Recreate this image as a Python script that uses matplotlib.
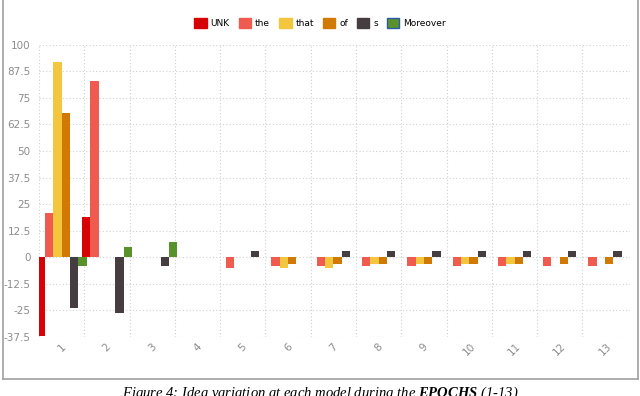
import numpy as np
import matplotlib
matplotlib.use("Agg")
from matplotlib import pyplot as plt
from matplotlib.patches import Patch
from matplotlib.lines import Line2D

plt.rcParams["mathtext.fontset"] = "custom"
plt.rcParams["mathtext.bf"] = "Liberation Serif:italic:bold"

epochs = [str(i) for i in range(1, 14)]
series_names = ["UNK", "the", "that", "of", "s", "Moreover"]
series_colors = ["#d70206", "#f05b4f", "#f4c63d", "#d17905", "#453d3f", "#59922b"]

unk = [-37, 19, 0, 0, 0, 0, 0, 0, 0, 0, 0, 0, 0]
the = [21, 83, 0, 0, -5, -4, -4, -4, -4, -4, -4, -4, -4]
that = [92, 0, 0, 0, 0, -5, -5, -3, -3, -3, -3, 0, 0]
of = [68, 0, 0, 0, 0, -3, -3, -3, -3, -3, -3, -3, -3]
s = [-24, -26, -4, 0, 3, 0, 3, 3, 3, 3, 3, 3, 3]
moreover = [-4, 5, 7, 0, 0, 0, 0, 0, 0, 0, 0, 0, 0]
all_series = [unk, the, that, of, s, moreover]

fig = plt.figure(figsize=(6.4, 3.96), dpi=100)
ax = fig.add_axes([39 / 640, 1 - 337 / 396, 591 / 640, (337 - 44.6) / 396])

x = np.arange(len(epochs))
w = 0.184
for k, vals in enumerate(all_series):
    ax.bar(x + (k - 2.5) * w, vals, width=w, color=series_colors[k], zorder=3)

ax.set_xlim(-0.5, 12.55)
ax.set_ylim(-37.5, 100)
yt = np.arange(-37.5, 100.1, 12.5)
ax.set_yticks(yt)
ax.set_yticklabels(["%g" % v for v in yt])
ax.set_xticks(x)
ax.set_xticklabels(epochs, rotation=45, ha="center", va="top")
ax.tick_params(length=0, colors="#8c8c8c", labelsize=7.5)
ax.tick_params(axis="x", pad=3)
ax.tick_params(axis="y", pad=6)
for sp in ax.spines.values():
    sp.set_visible(False)

# grid: horizontal at y ticks, vertical at category boundaries
for v in yt:
    ax.axhline(v, color="#d0d0d0", lw=0.8, ls=(0, (1, 2)), zorder=1)
for b in np.arange(-0.5, 12, 1):
    ax.axvline(b, color="#d0d0d0", lw=0.8, ls=(0, (1, 2)), zorder=1)

handles = [Patch(facecolor=c, edgecolor=c) for c in series_colors]
handles[-1] = Patch(facecolor=series_colors[-1], edgecolor="#2a5aa8", lw=1)
fig.legend(handles, series_names, loc="center", bbox_to_anchor=(0.5, 1 - 23 / 396),
           ncol=6, frameon=False, fontsize=6.5, handlelength=1.4, handleheight=1.4,
           handletextpad=0.4, columnspacing=1.0)

# outer frame
fig.add_artist(Line2D([2.5 / 640, 2.5 / 640], [1 - 378.5 / 396, 1.0], color="#a0a0a0", lw=1.2))
fig.add_artist(Line2D([637.5 / 640, 637.5 / 640], [1 - 378.5 / 396, 1.0], color="#a0a0a0", lw=1.2))
fig.add_artist(Line2D([2.5 / 640, 637.5 / 640], [1 - 378.5 / 396, 1 - 378.5 / 396], color="#a0a0a0", lw=1.2))

fig.text(0.5, 1 - 397 / 396,
         r"Figure 4: Idea variation at each model during the $\mathbf{EPOCHS}$ (1-13)",
         ha="center", va="baseline", fontsize=10.5, family="Liberation Serif", style="italic")

fig.savefig("out.png", dpi=100)
